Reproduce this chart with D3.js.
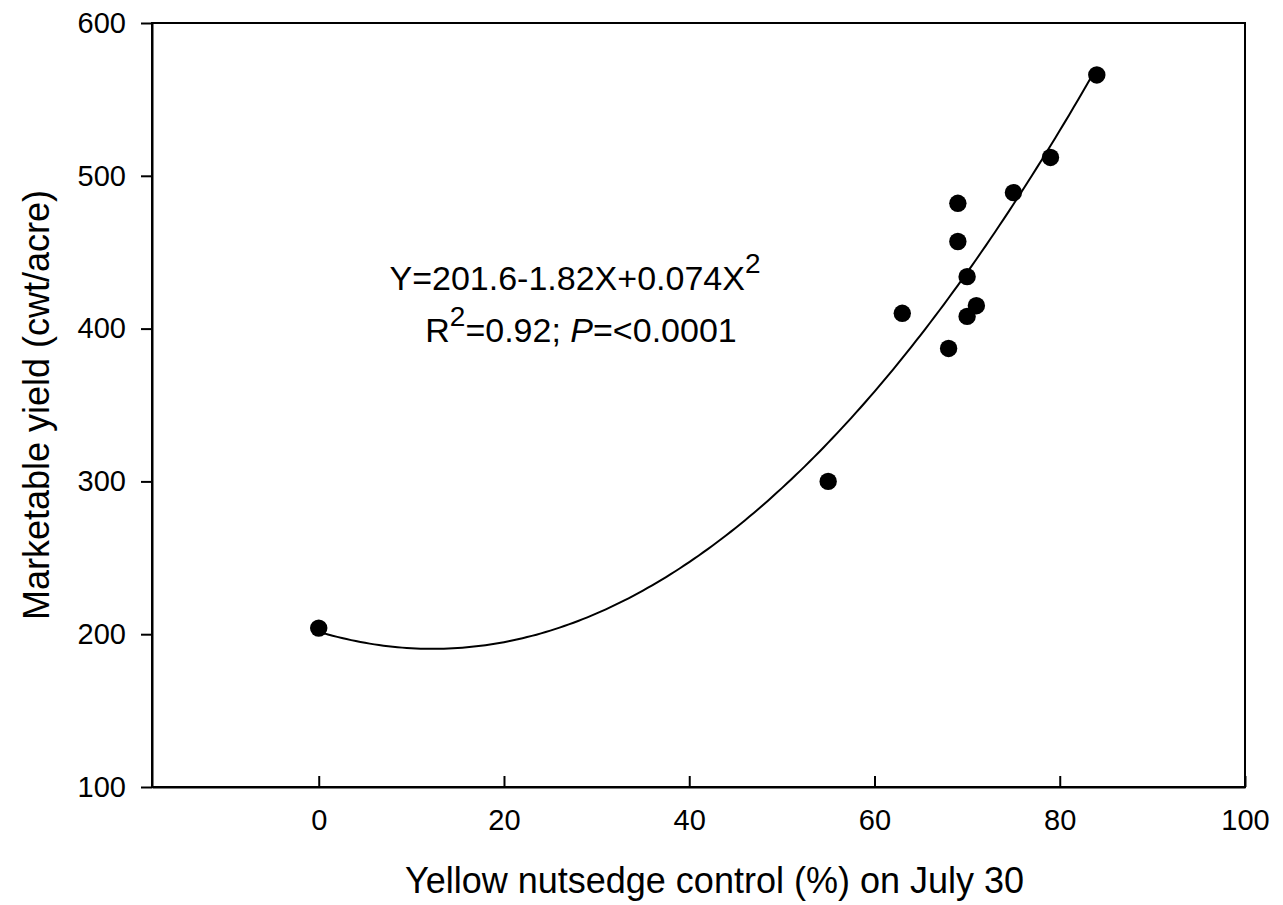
<!DOCTYPE html>
<html>
<head>
<meta charset="utf-8">
<script src="https://cdn.jsdelivr.net/npm/d3@7"></script>
<style>
  body { margin: 0; background: #fff; }
  text { font-family: Arial, "Liberation Sans", sans-serif; fill: #000; }
</style>
</head>
<body>
<div id="chart"></div>
<script>
// weed control (%) vs yield, one point per treatment
const control = [0, 55, 63, 68, 69, 69, 70, 70, 71, 75, 79, 84];
const yieldCwt = [204, 300, 410, 387, 482, 457, 434, 408, 415, 489, 512, 566];

// fitted quadratic shown on the chart: Y = b0 + b1*X + b2*X^2
const fitCoef = [201.6, -1.82, 0.074];
const fitRange = [0, 84];

const xTicks = [0, 20, 40, 60, 80, 100];
const yTicks = [100, 200, 300, 400, 500, 600];

const W = 1283, H = 905;
const svg = d3.select('#chart').append('svg').attr('width', W).attr('height', H);

const x = d3.scaleLinear().domain([-18, 100]).range([152, 1245]);
const y = d3.scaleLinear().domain([100, 600]).range([787, 23]);

// frame
svg.append('rect')
  .attr('x', x(-18)).attr('y', y(600))
  .attr('width', x(100) - x(-18)).attr('height', y(100) - y(600))
  .attr('fill', 'none').attr('stroke', '#000').attr('stroke-width', 2);

const yAxis = svg.append('g')
  .attr('transform', `translate(${x(-18)},0)`)
  .call(d3.axisLeft(y).tickValues(yTicks).tickFormat(d3.format('d')).tickSize(11).tickSizeOuter(0).tickPadding(15));

const xAxis = svg.append('g')
  .attr('transform', `translate(0,${y(100)})`)
  .call(d3.axisBottom(x).tickValues(xTicks).tickFormat(d3.format('d')).tickSize(-11).tickSizeOuter(0).tickPadding(22));

[xAxis, yAxis].forEach((g) => {
  g.select('.domain').attr('stroke', '#000').attr('stroke-width', 2);
  g.selectAll('.tick line').attr('stroke', '#000').attr('stroke-width', 2);
  g.selectAll('.tick text').attr('font-size', 29).attr('font-family', 'Arial, "Liberation Sans", sans-serif').attr('fill', '#000');
});

// fit curve
const curvePts = d3.range(fitRange[0], fitRange[1] + 0.001, 0.5)
  .map((v) => [v, fitCoef[0] + fitCoef[1] * v + fitCoef[2] * v * v]);
svg.append('path')
  .datum(curvePts)
  .attr('fill', 'none')
  .attr('stroke', '#000')
  .attr('stroke-width', 2)
  .attr('d', d3.line().x((d) => x(d[0])).y((d) => y(d[1])));

// points
svg.selectAll('circle.pt')
  .data(control.map((c, i) => ({ c, v: yieldCwt[i] })))
  .enter()
  .append('circle')
  .attr('class', 'pt')
  .attr('cx', (d) => x(d.c))
  .attr('cy', (d) => y(d.v))
  .attr('r', 8.7)
  .attr('fill', '#000');

// equation text
const t1 = svg.append('text').attr('x', 575).attr('y', y(425)).attr('text-anchor', 'middle').attr('font-size', 34);
t1.append('tspan').text('Y=201.6-1.82X+0.074X');
t1.append('tspan').attr('dy', -17).attr('font-size', 28).text('2');

const t2 = svg.append('text').attr('x', 581).attr('y', y(391)).attr('text-anchor', 'middle').attr('font-size', 34);
t2.append('tspan').text('R');
t2.append('tspan').attr('dy', -16).attr('font-size', 28).text('2');
t2.append('tspan').attr('dy', 16).text('=0.92; ');
t2.append('tspan').attr('font-style', 'italic').text('P');
t2.append('tspan').text('=<0.0001');

// axis titles
svg.append('text')
  .attr('x', (x(-18) + x(100)) / 2 + 16)
  .attr('y', 893)
  .attr('text-anchor', 'middle')
  .attr('font-size', 36)
  .text('Yellow nutsedge control (%) on July 30');

svg.append('text')
  .attr('transform', 'translate(49,405) rotate(-90)')
  .attr('text-anchor', 'middle')
  .attr('font-size', 36)
  .text('Marketable yield (cwt/acre)');
</script>
</body>
</html>
